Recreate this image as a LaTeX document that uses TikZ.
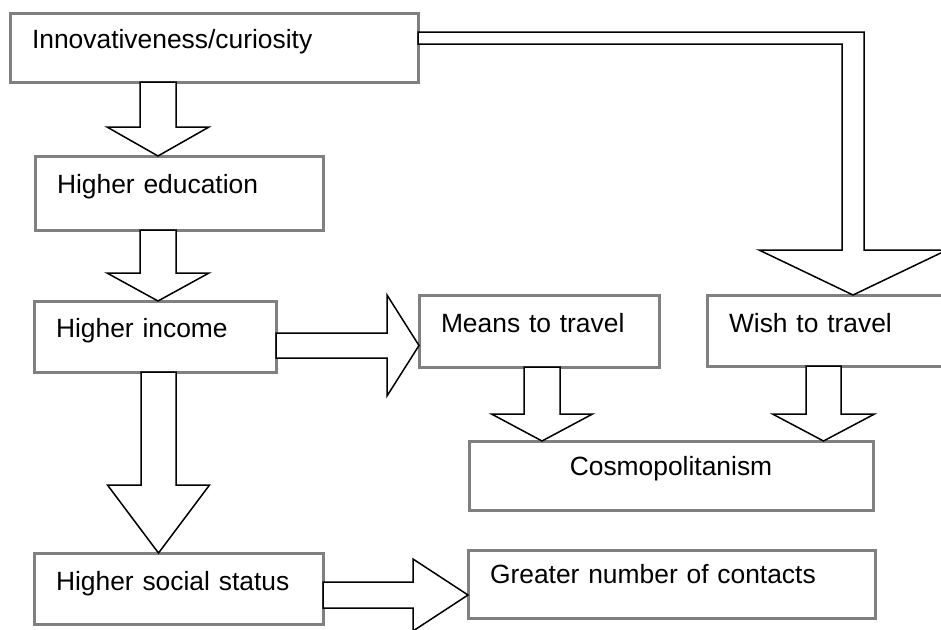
\documentclass[tikz,border=0pt]{standalone}
\usepackage{fontspec}
\setmainfont{Liberation Sans}
\usepackage{tikz}
\usetikzlibrary{calc}
\definecolor{boxgray}{RGB}{128,128,128}

% hollow block arrows: from, to, centre, shaft half, head half, head length
\newcommand{\blockdown}[6]{%
  \draw[blk] let \p1=(#1.south), \p2=(#2.north) in
    ({#3pt-#4pt},\y1) -- ({#3pt-#4pt},{\y2+#6pt}) -- ({#3pt-#5pt},{\y2+#6pt}) -- (#3pt,\y2)
    -- ({#3pt+#5pt},{\y2+#6pt}) -- ({#3pt+#4pt},{\y2+#6pt}) -- ({#3pt+#4pt},\y1) -- cycle;}
\newcommand{\blockright}[6]{%
  \draw[blk] let \p1=(#1.east), \p2=(#2.west) in
    (\x1,{-#3pt+#4pt}) -- ({\x2-#6pt},{-#3pt+#4pt}) -- ({\x2-#6pt},{-#3pt+#5pt}) -- (\x2,-#3pt)
    -- ({\x2-#6pt},{-#3pt-#5pt}) -- ({\x2-#6pt},{-#3pt-#4pt}) -- (\x1,{-#3pt-#4pt}) -- cycle;}

\begin{document}
\begin{tikzpicture}[x=1pt,y=-1pt,
  box/.style={draw=boxgray,line width=3pt,rectangle,anchor=north west,outer sep=0pt,
              inner xsep=22pt,inner ysep=0pt,text height=35pt,align=left,
              font=\fontsize{26.4}{31}\selectfont},
  blk/.style={draw=black,line width=1.5pt,fill=white,line join=miter}]

  \path[use as bounding box,clip] (0,0) rectangle (941,629);

  \node[box,text width=364pt,text depth=34pt] (innov) at (10,13) {Innovativeness/curiosity};
  \node[box,text width=244pt,text height=37pt,text depth=37pt] (edu) at (35,156) {Higher education};
  \node[box,text width=198pt,text height=36pt,text depth=35pt] (income) at (34,301) {Higher income};
  \node[box,text width=196pt,text height=37pt,text depth=35pt] (means) at (419,295) {Means to travel};
  \node[box,text width=196pt,text height=37pt,text depth=34pt] (wish) at (707,295) {Wish to travel};
  \node[box,text width=360pt,text height=34pt,text depth=35pt,align=center] (cosmo) at (469,441) {Cosmopolitanism};
  \node[box,text width=245pt,text height=37pt,text depth=34pt] (social) at (34,553) {Higher social status};
  \node[box,text width=363pt,text height=33pt,text depth=35pt] (contacts) at (468,550) {Greater number of contacts};

  \blockdown{innov}{edu}{158}{18}{51}{29}
  \blockdown{edu}{income}{158}{18}{51}{28}
  \blockdown{income}{social}{158.5}{17.5}{51}{68}
  \blockdown{means}{cosmo}{542}{18}{50.5}{27}
  \blockdown{wish}{cosmo}{823.5}{17.5}{51}{27}
  \blockright{income}{means}{345.5}{12.5}{50.5}{32}
  \blockright{social}{contacts}{595}{13}{36}{55}

  \draw[blk] let \p1=(innov.east), \p2=(wish.north) in
    (\x1,-32pt) -- (864pt,-32pt) -- (864pt,{\y2+45pt}) -- (947pt,{\y2+45pt}) -- (853pt,\y2)
    -- (759pt,{\y2+45pt}) -- (842pt,{\y2+45pt}) -- (842pt,-44pt) -- (\x1,-44pt) -- cycle;

\end{tikzpicture}
\end{document}
